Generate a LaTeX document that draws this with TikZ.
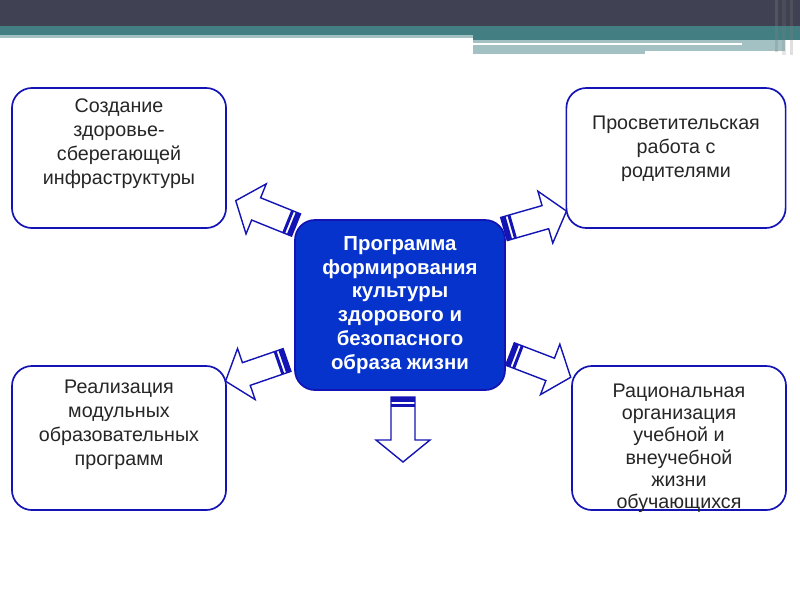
\documentclass[tikz,border=0pt]{standalone}
\usepackage{fontspec}
\setmainfont{Liberation Sans}
\usetikzlibrary{positioning}

\definecolor{barDark}{HTML}{404152}
\definecolor{barTeal}{HTML}{437E82}
\definecolor{barLight}{HTML}{A3C1C3}
\definecolor{lineBlue}{HTML}{1414B4}
\definecolor{fillBlue}{HTML}{0533CC}
\definecolor{textGray}{HTML}{262626}

\tikzset{
    sidebox/.style={draw=lineBlue, line width=1.2pt, fill=white, rounded corners=0.5cm,
        minimum width=5.35cm, minimum height=3.5cm},
    sidetext/.style={align=center, text=textGray, font=\fontsize{14}{17}\selectfont},
    centerbox/.style={draw=lineBlue, line width=1.2pt, fill=fillBlue, rounded corners=0.5cm,
        minimum width=5.25cm, minimum height=4.25cm},
    centertext/.style={align=center, text=white, font=\fontsize{14.5}{17}\selectfont\bfseries},
    blockarrow/.pic={
        \draw[lineBlue, line width=1pt, fill=white, line join=miter]
            (0,-12) -- (43,-12) -- (43,-27) -- (65,0) -- (43,27) -- (43,12) -- (0,12) -- cycle;
        \fill[lineBlue] (0,-12) rectangle (5,12);
        \fill[lineBlue] (7,-12) rectangle (10,12);
    }
}

\begin{document}
\begin{tikzpicture}[x=0.025cm, y=-0.025cm]
    \useasboundingbox (0,0) rectangle (800,600);

    % top bar
    \fill[barDark] (0,0) rectangle (800,26);
    \fill[barTeal] (0,26) rectangle (800,35);
    \fill[barLight] (0,35) rectangle (473,38);
    \fill[barTeal] (473,35) rectangle (800,40);
    \fill[barLight] (473,40) rectangle (645,54);
    \fill[barLight] (645,40) rectangle (785,51);
    \fill[white] (473,43) rectangle (742,45);
    \fill[gray, opacity=0.3] (775,0) rectangle (778,52);
    \fill[gray, opacity=0.2] (782,0) rectangle (786,55);
    \fill[gray, opacity=0.25] (790,0) rectangle (793,55);

    % boxes
    \node[sidebox] (infra) at (119,158) {};
    \node[sidetext, anchor=north] (infratext) at (119,94)
        {Создание\\здоровье-\\сберегающей\\инфраструктуры};

    \node[sidebox, minimum width=5.48cm] (parents) at (676,158) {};
    \node[sidetext, anchor=north] (parentstext) at (676,111)
        {Просветительская\\работа с\\родителями};

    \node[sidebox, minimum height=3.6cm] (modules) at (119,438) {};
    \node[sidetext, anchor=north] (modulestext) at (119,375)
        {Реализация\\модульных\\образовательных\\программ};

    \node[sidebox, minimum height=3.6cm] (organize) at (679,438) {};
    \node[sidetext, anchor=north, font=\fontsize{14}{15.8}\selectfont] (organizetext) at (679,379)
        {Рациональная\\организация\\учебной и\\внеучебной\\жизни\\обучающихся};

    \node[centerbox] (program) at (400,305) {};
    \node[centertext] (programtext) at (400,305)
        {Программа\\формирования\\культуры\\здорового и\\безопасного\\образа жизни};

    % arrows
    \pic[rotate=158] at (296,225) {blockarrow};
    \pic[rotate=16] at (504,229) {blockarrow};
    \pic[rotate=199] at (287,360) {blockarrow};
    \pic[rotate=-21] at (510,354) {blockarrow};
    \pic[rotate=-90] at (403,397) {blockarrow};
\end{tikzpicture}
\end{document}
